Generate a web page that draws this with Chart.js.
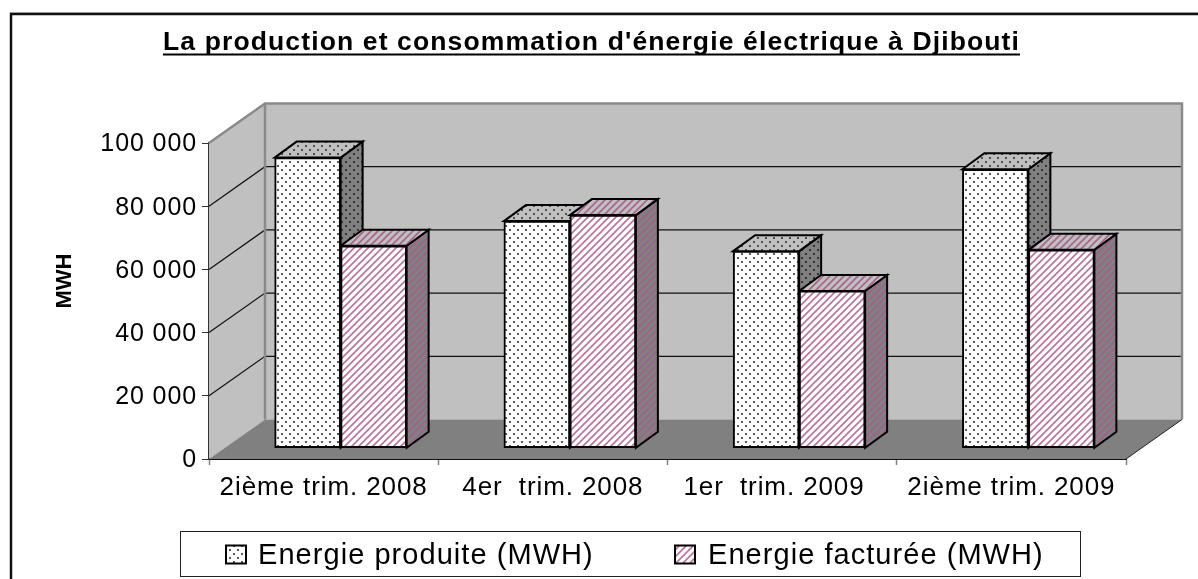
<!DOCTYPE html>
<html><head><meta charset="utf-8">
<style>html,body{margin:0;padding:0;background:#fff;overflow:hidden}canvas{display:block}</style>
<script src="https://cdn.jsdelivr.net/npm/chart.js@4"></script>
</head><body><div style="width:1198px;height:579px;position:relative"><canvas id="c"></canvas></div>
<script>
const categories = ["2ième trim. 2008", "4er  trim. 2008", "1er  trim. 2009  ", "2ième trim. 2009"];
const produite = [91800, 71700, 62200, 88100];
const facturee = [63900, 73600, 49600, 62600];
const seriesNames = ["Energie produite (MWH)", "Energie facturée (MWH)"];
const chartTitle = "La production et consommation d'énergie électrique à Djibouti";
const yTitle = "MWH";
const yTicks = [0, 20000, 40000, 60000, 80000, 100000];

const FONT = '"Liberation Sans", Arial, sans-serif';
function dots(bg, fg) {
  const c = document.createElement('canvas'); c.width = c.height = 8;
  const x = c.getContext('2d');
  x.fillStyle = bg; x.fillRect(0,0,8,8);
  x.fillStyle = fg; x.fillRect(1,1,2,2); x.fillRect(5,5,2,2);
  return x.createPattern(c,'repeat');
}
function hatch(bg, fg) {
  const c = document.createElement('canvas'); c.width = c.height = 7;
  const x = c.getContext('2d');
  x.fillStyle = bg; x.fillRect(0,0,7,7);
  x.strokeStyle = fg; x.lineWidth = 1.7;
  [[-1,1,1,-1],[0,7,7,0],[6,8,8,6]].forEach(l=>{x.beginPath();x.moveTo(l[0],l[1]);x.lineTo(l[2],l[3]);x.stroke();});
  return x.createPattern(c,'repeat');
}
const faces = [
  {front:dots('#ffffff','#5a5a5a'), top:dots('#c0c0c0','#505050'), side:dots('#808080','#333333')},
  {front:hatch('#ffffff','#b8759f'), top:hatch('#c0c0c0','#a8658f'), side:hatch('#808080','#a0608c')}
];
const BACK = {dx:56, dy:39.5};
const DEPTH = {dx:22, dy:16};

function poly(ctx, pts, fill, stroke, lw) {
  ctx.beginPath();
  pts.forEach((p,i)=> i? ctx.lineTo(p[0],p[1]) : ctx.moveTo(p[0],p[1]));
  ctx.closePath();
  if (fill) { ctx.fillStyle = fill; ctx.fill(); }
  if (stroke) { ctx.strokeStyle = stroke; ctx.lineWidth = lw; ctx.lineJoin='miter'; ctx.stroke(); }
}
const scene = {
  id:'scene',
  beforeDraw(chart){
    const ctx = chart.ctx;
    ctx.fillStyle='#fff'; ctx.fillRect(0,0,chart.width,chart.height);
    ctx.strokeStyle='#111'; ctx.lineWidth=2.5;
    ctx.beginPath(); ctx.moveTo(11,chart.height); ctx.lineTo(11,14); ctx.lineTo(chart.width,14); ctx.stroke();
    ctx.strokeStyle='#999'; ctx.lineWidth=1;
    ctx.beginPath(); ctx.moveTo(10,12.5); ctx.lineTo(chart.width,12.5); ctx.stroke();
    // title
    ctx.save();
    ctx.font='bold 26.5px '+FONT; ctx.fillStyle='#000'; ctx.textAlign='left'; ctx.textBaseline='alphabetic';
    ctx.letterSpacing='1.13px';
    const w=ctx.measureText(chartTitle).width;
    ctx.fillText(chartTitle,591.5-w/2,50);
    ctx.fillRect(591.5-w/2,53.5,w,2);
    ctx.restore();
    // axis title
    ctx.save();
    ctx.translate(65,281); ctx.rotate(-Math.PI/2);
    ctx.font='bold 22px '+FONT; ctx.fillStyle='#000'; ctx.textAlign='center'; ctx.textBaseline='middle';
    ctx.fillText(yTitle,0,0);
    ctx.restore();
    // legend
    ctx.save();
    ctx.strokeStyle='#222'; ctx.lineWidth=1; ctx.strokeRect(180.5,531.5,900,45);
    const sw=[226,675], tx=[258,708];
    ctx.font='29px '+FONT; ctx.fillStyle='#000'; ctx.textBaseline='alphabetic'; ctx.letterSpacing='1.05px';
    seriesNames.forEach((n,i)=>{
      ctx.fillStyle=faces[i].front; ctx.fillRect(sw[i],545.5,20,18);
      ctx.strokeStyle='#000'; ctx.lineWidth=2; ctx.strokeRect(sw[i],545.5,20,18);
      ctx.fillStyle='#000'; ctx.fillText(n,tx[i],564);
    });
    ctx.restore();
    ctx.letterSpacing='0.9px';
  },
  beforeDatasetsDraw(chart){
    const ctx=chart.ctx, a=chart.chartArea, y=chart.scales.y;
    const L=a.left,R=a.right,T=a.top,B=a.bottom,dx=BACK.dx,dy=BACK.dy;
    ctx.save();
    poly(ctx,[[L,T],[L+dx,T-dy],[L+dx,B-dy],[L,B]],'#c0c0c0');
    poly(ctx,[[L+dx,T-dy],[R+dx,T-dy],[R+dx,B-dy],[L+dx,B-dy]],'#c0c0c0');
    ctx.strokeStyle='#111'; ctx.lineWidth=1.2;
    yTicks.slice(1,-1).forEach(v=>{
      const p=y.getPixelForValue(v);
      ctx.beginPath(); ctx.moveTo(L,p); ctx.lineTo(L+dx,p-dy); ctx.lineTo(R+dx,p-dy); ctx.stroke();
    });
    ctx.strokeStyle='#8a8a8a'; ctx.lineWidth=2.5;
    ctx.beginPath(); ctx.moveTo(L,T); ctx.lineTo(L+dx,T-dy); ctx.lineTo(R+dx,T-dy); ctx.lineTo(R+dx,B-dy); ctx.stroke();
    ctx.beginPath(); ctx.moveTo(L+dx,T-dy); ctx.lineTo(L+dx,B-dy); ctx.stroke();
    poly(ctx,[[L,B],[L+dx,B-dy],[R+dx,B-dy],[R,B]],'#808080');
    ctx.strokeStyle='#222'; ctx.lineWidth=1;
    ctx.beginPath(); ctx.moveTo(R,B); ctx.lineTo(R+dx,B-dy); ctx.stroke();
    // depth faces of bars, taken from the bars the library laid out
    chart.data.datasets.forEach((d,i)=>{
      chart.getDatasetMeta(i).data.forEach(el=>{
        const l=el.x-el.width/2,r=el.x+el.width/2,t=el.y,b=el.base,ox=DEPTH.dx,oy=DEPTH.dy;
        poly(ctx,[[r,t],[r+ox,t-oy],[r+ox,b-oy],[r,b]],faces[i].side,'#000',2);
        poly(ctx,[[l,t],[l+ox,t-oy],[r+ox,t-oy],[r,t]],faces[i].top,'#000',2);
      });
    });
    ctx.restore();
  }
};
new Chart(document.getElementById('c'),{
  type:'bar',
  data:{
    labels:categories,
    datasets:[produite,facturee].map((vals,i)=>({
      label:seriesNames[i],
      data:vals.map((v,k)=>({x:k,y:v})),
      xAxisID:'x2',yAxisID:'y2',
      backgroundColor:faces[i].front,borderColor:'#000',borderWidth:2,borderSkipped:false,
      barThickness:66
    }))
  },
  options:{
    responsive:true,maintainAspectRatio:false,animation:false,
    layout:{padding:{left:55,right:72,top:143,bottom:0}},
    plugins:{legend:{display:false},title:{display:false},tooltip:{enabled:false}},
    scales:{
      x:{type:'category',position:'bottom',offset:true,z:1,
        afterFit(s){s.height=120;},
        border:{color:'#111',width:2},
        grid:{offset:true,drawOnChartArea:false,tickLength:6,tickColor:'#808080',tickWidth:1.5},
        ticks:{color:'#000',font:{family:FONT,size:26},padding:7,autoSkip:false,maxRotation:0,minRotation:0}},
      y:{type:'linear',position:'left',min:0,max:100000,z:1,
        afterFit(s){s.width=154;},
        afterBuildTicks(s){s.ticks=yTicks.map(v=>({value:v}));},
        border:{color:'#333',width:1.5},
        grid:{drawOnChartArea:false,tickLength:7,tickColor:'#333',tickWidth:1},
        ticks:{color:'#000',font:{family:FONT,size:25},padding:5,labelOffset:1.5,
          callback:v=>String(v).replace(/\B(?=(\d{3})+$)/g,' ')}},
      x2:{type:'linear',axis:'x',display:false,offset:false,min:-0.5742,max:3.4258,grid:{display:false}},
      y2:{type:'linear',axis:'y',display:false,min:-3580,max:96420,grid:{display:false}}
    }
  },
  plugins:[scene]
});
</script></body></html>
